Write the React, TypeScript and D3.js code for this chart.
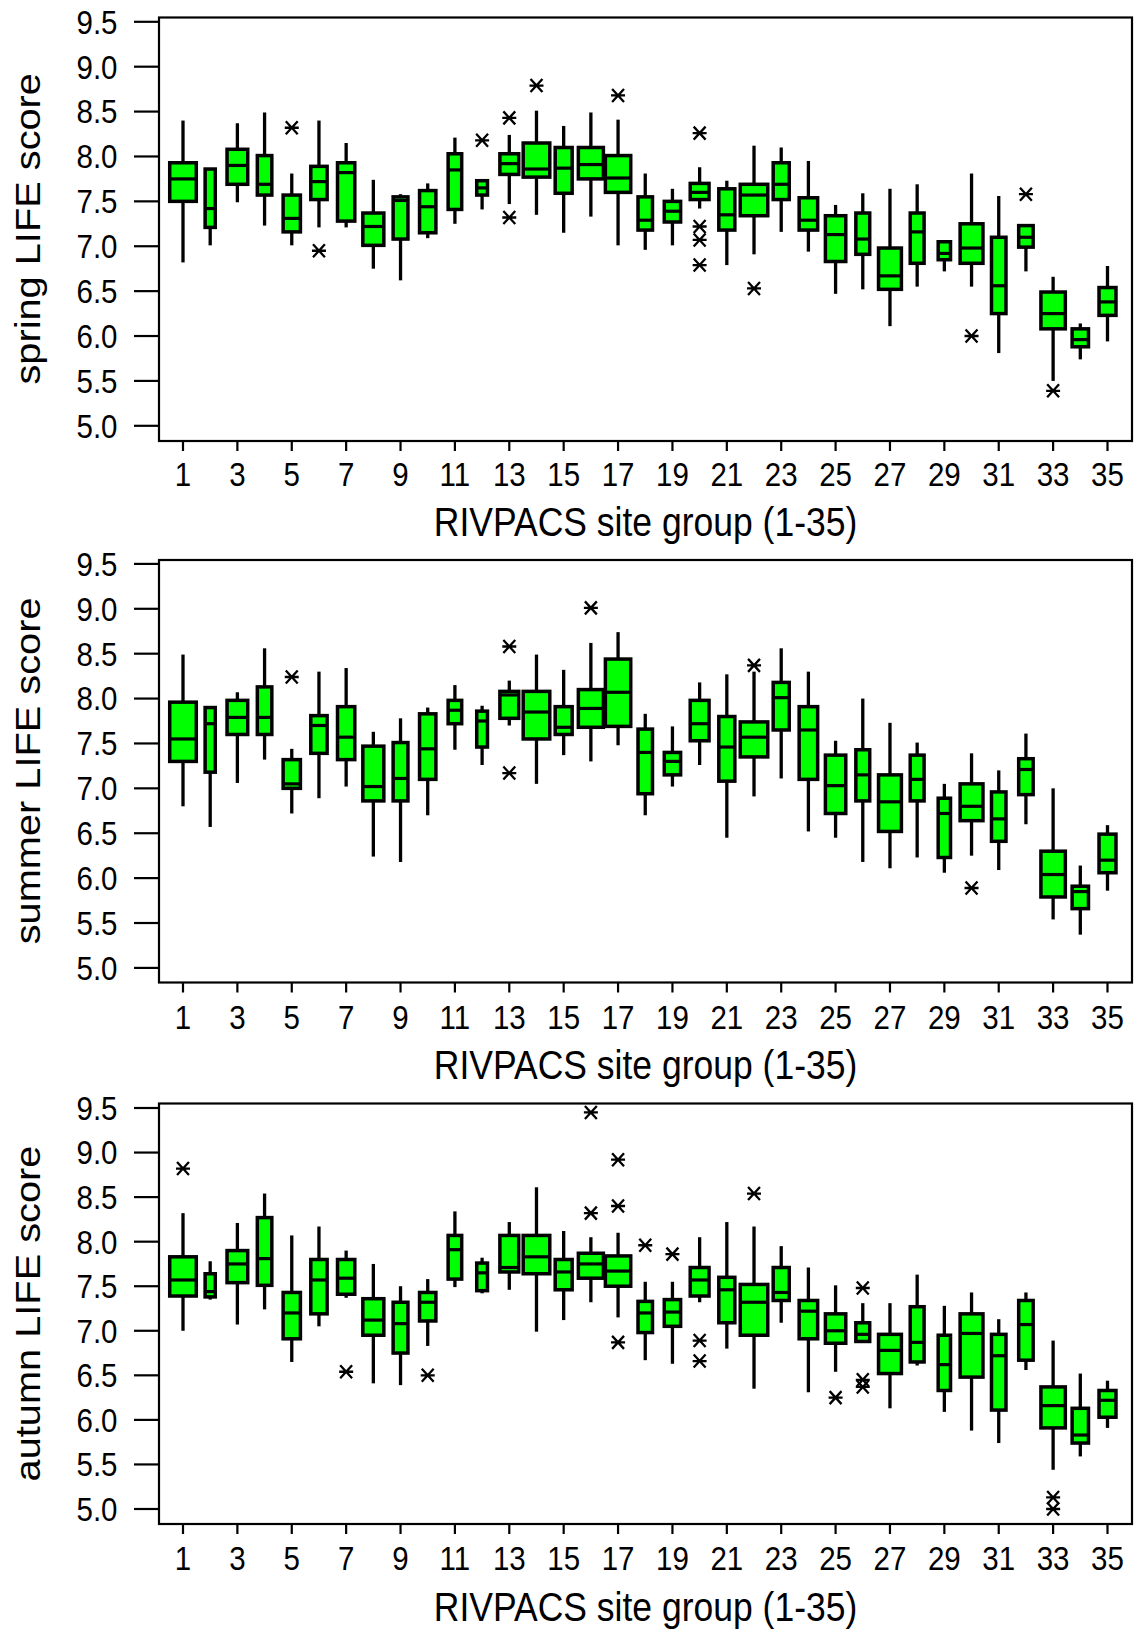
import React from 'react';
import * as d3 from 'd3';

// ---- data ----
const siteGroups = [1,2,3,4,5,6,7,8,9,10,11,12,13,14,15,16,17,18,19,20,21,22,23,24,25,26,27,28,29,30,31,32,33,34,35];
const xTickGroups = [1,3,5,7,9,11,13,15,17,19,21,23,25,27,29,31,33,35];
const yTickValues = [5.0,5.5,6.0,6.5,7.0,7.5,8.0,8.5,9.0,9.5];
// relative box width (proportional to group sample size)
const relBoxWidth = [0.97,0.44,0.78,0.58,0.67,0.64,0.67,0.79,0.59,0.64,0.55,0.46,0.72,0.97,0.66,0.92,0.93,0.58,0.64,0.72,0.63,1.0,0.63,0.71,0.77,0.56,0.85,0.56,0.51,0.85,0.58,0.58,0.9,0.64,0.66];

// [low whisker, Q1, median, Q3, high whisker]
const springStats: number[][] = [
  [6.82,7.50,7.75,7.93,8.40],[7.01,7.21,7.42,7.86,7.86],[7.49,7.69,7.90,8.08,8.37],[7.23,7.57,7.69,8.01,8.49],
  [7.01,7.16,7.31,7.57,7.81],[7.21,7.52,7.72,7.89,8.40],[7.21,7.28,7.82,7.93,8.15],[6.75,7.01,7.22,7.37,7.74],
  [6.62,7.08,7.51,7.55,7.58],[7.09,7.15,7.44,7.62,7.70],[7.25,7.41,7.85,8.03,8.21],[7.41,7.57,7.65,7.73,7.73],
  [7.47,7.80,7.92,8.03,8.24],[7.35,7.77,7.86,8.15,8.51],[7.15,7.59,7.87,8.10,8.34],[7.33,7.75,7.91,8.10,8.49],
  [7.01,7.60,7.76,8.01,8.41],[6.96,7.18,7.29,7.55,7.81],[7.01,7.27,7.39,7.50,7.64],[7.42,7.52,7.60,7.70,7.88],
  [6.79,7.18,7.35,7.64,7.73],[6.91,7.34,7.57,7.69,8.12],[7.16,7.52,7.69,7.93,8.10],[6.94,7.18,7.29,7.54,7.95],
  [6.47,6.83,7.13,7.34,7.46],[6.52,6.91,7.08,7.37,7.59],[6.11,6.52,6.67,6.98,7.64],[6.55,6.81,7.16,7.37,7.69],
  [6.72,6.85,6.92,7.05,7.05],[6.55,6.81,6.98,7.25,7.81],[5.81,6.25,6.56,7.10,7.56],[6.72,6.99,7.10,7.23,7.23],
  [5.50,6.08,6.25,6.49,6.66],[5.74,5.88,5.96,6.08,6.14],[5.94,6.23,6.38,6.54,6.78]
];
const springOutliers: number[][] = [
  [],[],[],[],[8.32],[6.95],[],[],[],[],[],[8.18],[8.43,7.32],[8.79],[],[],[8.68],[],[],[8.26,7.22,7.07,6.79],
  [],[6.53],[],[],[],[],[],[],[],[6.00],[],[7.58],[5.39],[],[]
];

const summerStats: number[][] = [
  [6.80,7.30,7.55,7.96,8.49],[6.57,7.18,7.72,7.90,7.90],[7.06,7.60,7.79,7.98,8.07],[7.32,7.60,7.79,8.13,8.56],
  [6.72,7.00,7.05,7.32,7.44],[6.89,7.39,7.70,7.81,8.30],[7.02,7.32,7.57,7.91,8.34],[6.24,6.86,7.02,7.47,7.63],
  [6.18,6.86,7.11,7.51,7.78],[6.70,7.10,7.44,7.83,7.90],[7.43,7.72,7.87,7.98,8.15],[7.26,7.46,7.75,7.86,7.92],
  [7.70,7.78,8.04,8.08,8.20],[7.05,7.55,7.85,8.08,8.49],[7.37,7.60,7.68,7.91,8.32],[7.30,7.68,7.89,8.10,8.62],
  [7.48,7.69,8.07,8.44,8.74],[6.70,6.94,7.40,7.66,7.83],[7.02,7.15,7.30,7.40,7.69],[7.26,7.53,7.72,7.98,8.18],
  [6.45,7.08,7.46,7.80,8.27],[6.91,7.35,7.57,7.74,8.30],[7.11,7.65,8.01,8.18,8.56],[6.52,7.10,7.65,7.91,8.30],
  [6.45,6.72,7.03,7.37,7.53],[6.18,6.86,7.15,7.43,8.00],[6.11,6.52,6.85,7.15,7.73],[6.23,6.86,7.10,7.37,7.51],
  [6.06,6.23,6.72,6.89,7.05],[6.25,6.64,6.80,7.05,7.39],[6.09,6.41,6.66,6.96,7.20],[6.60,6.93,7.21,7.33,7.61],
  [5.54,5.79,6.04,6.30,7.00],[5.37,5.66,5.85,5.91,6.14],[5.86,6.06,6.20,6.49,6.59]
];
const summerOutliers: number[][] = [
  [],[],[],[],[8.24],[],[],[],[],[],[],[],[8.58,7.17],[],[],[9.01],[],[],[],[],
  [],[8.37],[],[],[],[],[],[],[],[5.89],[],[],[],[],[]
];

const autumnStats: number[][] = [
  [7.00,7.39,7.57,7.83,8.32],[7.35,7.38,7.44,7.64,7.78],[7.07,7.54,7.75,7.90,8.21],[7.24,7.51,7.81,8.27,8.54],
  [6.65,6.91,7.20,7.43,8.07],[7.05,7.19,7.57,7.80,8.17],[7.37,7.41,7.59,7.80,7.90],[6.41,6.95,7.12,7.36,7.75],
  [6.39,6.75,7.08,7.32,7.50],[6.83,7.11,7.32,7.43,7.58],[7.49,7.58,7.91,8.07,8.34],[7.42,7.45,7.65,7.76,7.82],
  [7.46,7.66,7.71,8.07,8.22],[6.99,7.64,7.83,8.07,8.61],[7.12,7.46,7.66,7.80,8.12],[7.32,7.59,7.75,7.87,8.05],
  [7.15,7.50,7.67,7.84,8.10],[6.67,6.98,7.20,7.33,7.55],[6.63,7.05,7.21,7.35,7.55],[7.32,7.39,7.57,7.71,8.05],
  [6.80,7.09,7.46,7.60,8.22],[6.35,6.95,7.32,7.52,8.17],[7.09,7.34,7.43,7.71,7.95],[6.31,6.91,7.22,7.34,7.71],
  [6.54,6.86,7.00,7.19,7.51],[6.88,6.88,6.96,7.09,7.31],[6.13,6.52,6.78,6.96,7.31],[6.61,6.65,6.87,7.27,7.63],
  [6.09,6.33,6.62,6.95,7.28],[5.88,6.48,6.97,7.19,7.43],[5.74,6.11,6.72,6.96,7.13],[6.56,6.67,7.07,7.34,7.43],
  [5.44,5.91,6.16,6.37,6.89],[5.59,5.74,5.83,6.13,6.52],[5.91,6.03,6.22,6.33,6.44]
];
const autumnOutliers: number[][] = [
  [8.82],[],[],[],[],[],[6.54],[],[],[6.50],[],[],[],[],[],[9.45,8.32],[8.92,8.40,6.87],[7.96],[7.86],[6.89,6.66],
  [],[8.54],[],[],[6.25],[7.48,6.45,6.37],[],[],[],[],[],[],[5.13,5.00],[],[]
];

const seasonTitles = ['spring LIFE score', 'summer LIFE score', 'autumn LIFE score'];
const xTitle = 'RIVPACS site group (1-35)';

// ---- layout ----
const W = 1134, H = 1629;
const FONT = "Arial, 'Liberation Sans', Helvetica, sans-serif";
const STRETCH = 1.12;
const frameL = 159, frameR = 1132;
const panelLayout = [
  { y95: 21.8, y5: 425.8, top: 17.5, bottom: 441, labelY: 473.6, titleY: 522 },
  { y95: 563.9, y5: 967.9, top: 560, bottom: 982.5, labelY: 1016.7, titleY: 1064.5 },
  { y95: 1108, y5: 1509, top: 1103.5, bottom: 1524, labelY: 1558, titleY: 1606.6 },
];
const GREEN = '#00ff00';

const x = d3.scaleLinear().domain([1, 35]).range([183, 1107.5]);
const wScale = d3.scaleLinear().domain([0, 1]).range([0, 31]);

function Asterisk({ cx, cy }: { cx: number; cy: number }) {
  const r = 7, ry = 6.5;
  const d = `M${cx - r},${cy}L${cx + r},${cy}M${cx - r * 0.85},${cy - ry}L${cx + r * 0.85},${cy + ry}M${cx - r * 0.85},${cy + ry}L${cx + r * 0.85},${cy - ry}`;
  return <path d={d} stroke="#000" strokeWidth={2.3} fill="none" />;
}

function Panel({ idx }: { idx: number }) {
  const L = panelLayout[idx];
  const stats = [springStats, summerStats, autumnStats][idx];
  const outs = [springOutliers, summerOutliers, autumnOutliers][idx];
  const y = d3.scaleLinear().domain([5, 9.5]).range([L.y5, L.y95]);
  const midY = (L.y5 + L.y95) / 2 + 5;
  return (
    <g>
      {yTickValues.map((v) => (
        <g key={'yt' + v}>
          <line x1={134} x2={frameL} y1={y(v)} y2={y(v)} stroke="#000" strokeWidth={2.2} />
          <text transform={`translate(117.5,${y(v)}) scale(1,${STRETCH})`} dy="0.36em" textAnchor="end" fontSize={29.5} fontFamily={FONT}>
            {d3.format('.1f')(v)}
          </text>
        </g>
      ))}
      {xTickGroups.map((g) => (
        <g key={'xt' + g}>
          <line x1={x(g)} x2={x(g)} y1={L.bottom} y2={L.bottom + 10} stroke="#000" strokeWidth={2.2} />
          <text transform={`translate(${x(g)},${L.labelY}) scale(1,${STRETCH})`} dy="0.36em" textAnchor="middle" fontSize={29.5} fontFamily={FONT}>
            {g}
          </text>
        </g>
      ))}
      {siteGroups.map((g, i) => {
        const [lo, q1, med, q3, hi] = stats[i];
        const cx = x(g);
        const w = wScale(relBoxWidth[i]) - 3.5;
        return (
          <g key={'b' + g}>
            <line x1={cx} x2={cx} y1={y(hi)} y2={y(q3)} stroke="#000" strokeWidth={3.3} />
            <line x1={cx} x2={cx} y1={y(q1)} y2={y(lo)} stroke="#000" strokeWidth={3.3} />
            <rect x={cx - w / 2} y={y(q3)} width={w} height={Math.max(0.5, y(q1) - y(q3))} fill={GREEN} stroke="#000" strokeWidth={3.5} />
            <line x1={cx - w / 2} x2={cx + w / 2} y1={y(med)} y2={y(med)} stroke="#000" strokeWidth={3.2} />
            {outs[i].map((o, k) => <Asterisk key={k} cx={cx} cy={y(o)} />)}
          </g>
        );
      })}
      <rect x={frameL} y={L.top} width={frameR - frameL} height={L.bottom - L.top} fill="none" stroke="#000" strokeWidth={2.2} />
      <text transform={`translate(40,${midY}) scale(1,${STRETCH}) rotate(-90)`} textAnchor="middle" fontSize={35.5} fontFamily={FONT}>
        {seasonTitles[idx]}
      </text>
      <text transform={`translate(${(frameL + frameR) / 2},${L.titleY}) scale(1,${STRETCH})`} dy="0.36em" textAnchor="middle" fontSize={35.5} fontFamily={FONT}>
        {xTitle}
      </text>
    </g>
  );
}

export default function App() {
  return (
    <svg width={W} height={H} viewBox={`0 0 ${W} ${H}`} style={{ position: 'absolute', left: 0, top: 0, background: '#fff' }}>
      <rect x={0} y={0} width={W} height={H} fill="#fff" />
      {[0, 1, 2].map((i) => <Panel key={i} idx={i} />)}
    </svg>
  );
}
